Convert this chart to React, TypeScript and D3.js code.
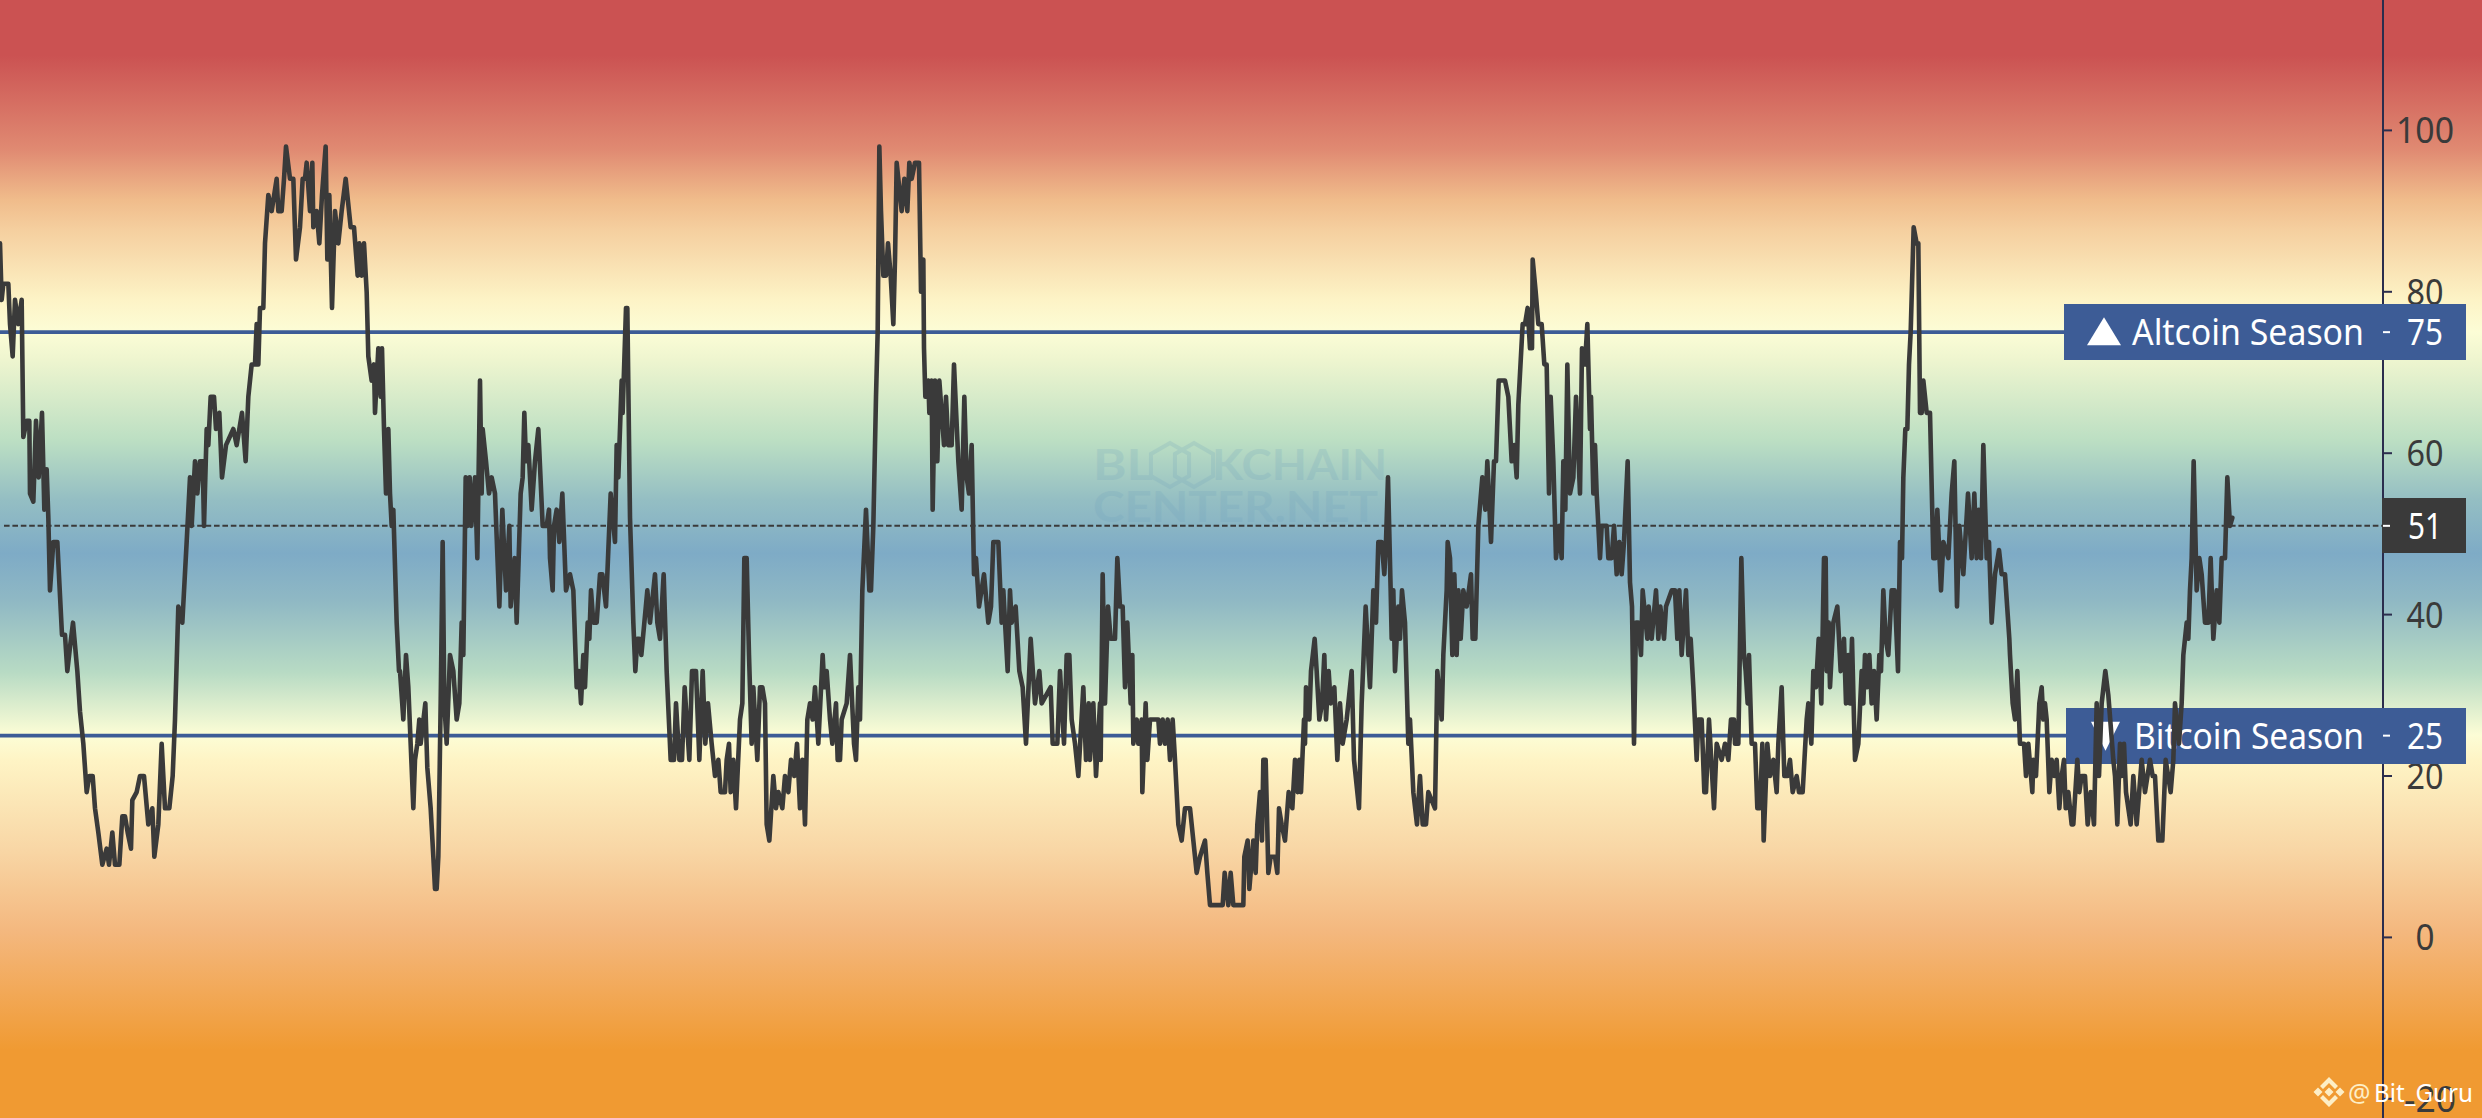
import React from 'react';
import * as d3 from 'd3';

const W = 2482;
const H = 1118;

// index readings, [time, value], time counted from the start of each stretch
const stretchA = [[0,86],[5,79],[10,81],[25,81],[30,76],[38,72],[45,79],[55,76],[65,79],[70,62],[80,64],[88,64],[90,55],[100,54],[108,64],[116,57],[126,65],[133,53],[140,58],[145,52],[150,43],[160,49],[172,49],[178,44],[186,37.5],[195,37.5],[202,33],[210,36],[219,39],[232,33],[240,28],[250,24],[260,18],[268,20],[278,20],[285,16],[295,13],[307,9],[320,11],[327,9],[337,13],[345,9],[358,9],[367,15],[375,15],[383,13],[393,11],[397,17],[410,18],[420,20],[432,20],[445,14],[457,16],[463,10],[475,14],[485,24],[495,16],[508,16],[518,20],[525,27],[535,41],[547,39],[560,49],[570,57],[575,51],[585,59],[592,55],[600,59],[608,59],[612,51],[620,63],[625,61],[632,67],[642,67],[648,63],[658,65],[666,57],[678,61],[700,63],[710,61],[726,65],[737,59],[745,67],[755,71],[765,71],[770,76],[775,71],[780,78],[790,78],[795,86],[805,92],[815,90],[830,94],[835,90],[845,90],[852,94],[858,98],[870,94],[880,94],[888,84],[900,88],[908,94],[915,94],[920,96],[930,90],[937,96],[940,88],[950,90],[958,86],[966,92],[977,98],[982,84],[988,92],[996,78],[1005,90],[1015,86],[1025,90],[1037,94],[1052,88],[1062,88],[1073,82],[1078,86],[1085,82],[1092,86],[1100,80],[1105,72],[1115,69],[1122,71],[1125,65],[1135,73],[1142,67],[1146,73],[1152,63],[1158,55],[1165,63],[1170,55],[1175,51],[1180,53],[1190,39],[1197,33]];
const stretchB = [[0,33],[10,27],[18,35],[25,31],[40,16],[45,22],[52,24],[58,27],[62,24],[76,29],[82,21],[92,16],[100,10],[105,6],[110,6],[115,10],[118,18],[122,29],[128,49],[133,29],[140,24],[150,35],[160,33],[170,27],[178,29],[185,39],[190,35],[197,57],[203,51],[209,57],[214,51],[225,57],[232,47],[240,69],[245,55],[248,63],[258,59],[267,55],[275,57],[285,55],[298,41],[307,53],[318,43],[328,51],[332,41],[344,47],[350,39],[362,55],[368,57],[373,65],[378,59],[385,61],[395,53],[405,59],[415,63],[428,51],[440,51],[447,53],[450,47],[458,43],[462,51],[470,53],[478,49],[487,55],[498,43],[510,45],[520,43],[530,31],[537,33],[543,29],[550,35],[555,31],[563,39],[568,37],[573,43],[580,39],[590,39],[600,45],[607,45],[618,41],[632,55],[645,49],[650,61],[655,57],[665,69],[668,65],[678,78],[682,78],[690,52],[700,39],[706,33],[712,37],[718,37],[724,35],[742,43],[750,39],[765,45],[772,39],[780,37],[791,45],[800,33],[812,22],[822,22],[828,29],[838,22],[846,22],[854,31],[860,27],[868,22],[876,33],[888,33],[898,22],[908,33],[916,24],[924,29],[935,24],[945,20],[955,22],[962,18],[975,18],[980,22],[987,24],[992,18],[1000,22],[1008,16],[1020,27],[1027,29],[1033,47],[1040,47],[1047,35],[1055,24],[1060,31],[1072,22],[1080,31],[1087,31],[1095,29],[1100,14],[1108,12],[1120,20],[1128,16],[1135,18],[1147,16],[1155,20],[1165,18],[1173,22],[1183,20],[1191,24]];
const stretchC = [[0,16],[7,22],[15,14],[22,27],[30,29],[38,27],[45,31],[55,24],[68,35],[73,31],[80,33],[90,27],[97,24],[108,29],[113,22],[120,22],[125,27],[140,29],[150,35],[162,24],[168,22],[175,31],[180,27],[187,43],[198,53],[208,43],[213,43],[220,51],[228,67],[233,75],[238,98],[243,90],[250,82],[258,82],[264,86],[272,82],[280,76],[285,84],[290,96],[305,90],[313,94],[322,90],[328,96],[335,94],[345,96],[357,96],[363,80],[370,84],[372,73],[376,67],[385,69],[388,65],[395,69],[398,53],[405,69],[412,59],[418,69],[425,65],[432,61],[438,67],[445,61],[455,61],[462,71],[475,59],[485,53],[493,67],[500,57],[507,55],[515,61],[522,45],[528,47],[537,41],[552,45],[565,39],[573,41],[580,49],[595,49],[605,39],[610,43],[623,33],[630,43],[635,39],[647,41],[658,33],[668,31],[678,24],[692,37],[705,29],[718,33],[725,29],[752,31],[758,24],[772,24],[780,33],[792,24],[800,35],[808,35],[815,27],[825,24],[835,20],[850,31],[858,22],[866,29],[870,22],[880,29],[888,20],[900,29],[902,22],[908,45],[915,29],[924,41],[932,37],[945,37],[952,47],[960,41],[968,41],[975,31],[982,39],[992,29],[997,35],[1000,24],[1010,27],[1015,24],[1025,27],[1027,18],[1037,29],[1042,22],[1050,27],[1075,27],[1080,24],[1088,27],[1095,24],[1103,27],[1110,22],[1118,27],[1125,22],[1135,14],[1145,12],[1155,16],[1170,16],[1180,12],[1190,8]];
const stretchD = [[0,10],[15,12],[22,8],[30,4],[68,4],[74,8],[85,4],[92,8],[100,4],[130,4],[133,10],[143,12],[148,6],[160,12],[167,8],[172,14],[180,18],[186,12],[190,22],[197,22],[205,8],[212,10],[225,10],[232,8],[237,16],[245,14],[255,12],[266,18],[277,16],[285,22],[293,18],[298,22],[303,18],[312,27],[315,24],[318,31],[328,27],[333,33],[344,37],[350,33],[358,27],[366,29],[373,35],[378,27],[386,33],[392,29],[403,31],[412,22],[420,29],[428,24],[440,27],[455,33],[462,22],[477,16],[485,29],[497,41],[510,31],[520,43],[528,39],[535,49],[545,49],[553,45],[558,49],[564,57],[572,43],[575,37],[580,43],[585,33],[595,41],[600,37],[606,43],[615,39],[625,24],[630,27],[640,18],[651,14],[660,20],[668,14],[678,14],[685,18],[705,16],[712,33],[725,27],[730,35],[740,43],[743,49],[750,47],[757,35],[763,45],[770,35],[775,43],[782,37],[790,43],[800,41],[813,45],[818,37],[826,37],[835,51],[847,57],[856,53],[862,59],[873,49],[882,59],[888,59],[896,69],[915,69],[925,67],[935,59],[943,61],[950,57],[955,66],[968,76],[975,76],[983,78],[990,73],[996,73],[998,84],[1007,80],[1015,76],[1025,76],[1033,71],[1040,71],[1047,55],[1052,67],[1060,59],[1068,47],[1078,51],[1085,47],[1090,59],[1096,53],[1102,71],[1110,55],[1120,57],[1128,67],[1140,55],[1146,73],[1155,71],[1162,76],[1170,63],[1173,67],[1180,55],[1185,61],[1190,55]];
const stretchE = [[0,47],[5,51],[20,51],[25,47],[35,47],[42,51],[50,45],[58,49],[65,45],[72,49],[83,59],[90,44],[96,41],[102,24],[108,39],[115,39],[123,35],[128,43],[142,37],[146,41],[155,37],[168,43],[175,37],[181,41],[192,37],[198,41],[215,43],[225,43],[232,37],[238,43],[245,35],[258,43],[265,35],[272,37],[280,31],[290,22],[295,27],[305,27],[313,18],[318,18],[327,27],[342,16],[350,24],[365,22],[375,24],[385,22],[393,27],[402,27],[405,24],[415,24],[424,47],[432,35],[437,33],[443,29],[447,35],[455,24],[465,24],[472,16],[480,16],[487,24],[491,12],[502,24],[510,20],[520,22],[530,18],[535,24],[545,31],[553,20],[562,20],[570,22],[578,18],[590,20],[597,18],[608,18],[620,27],[625,29],[634,24],[640,33],[648,31],[656,37],[664,29],[672,47],[677,47],[680,33],[686,39],[690,31],[700,39],[712,41],[722,33],[732,37],[738,29],[745,35],[750,29],[756,37],[765,22],[775,24],[785,33],[790,29],[795,35],[802,31],[808,35],[815,29],[822,33],[830,27],[838,35],[843,33],[850,43],[857,37],[865,35],[875,43],[884,43],[894,33],[900,49],[906,47],[910,57],[916,63],[922,63],[927,71],[932,75],[941,88],[950,86],[955,86],[960,65],[965,65],[970,69],[980,65],[990,65],[1000,47],[1006,47],[1012,53],[1023,43],[1030,49],[1045,47],[1055,55],[1063,59],[1071,41],[1078,51],[1090,45],[1104,55],[1115,47],[1123,55],[1130,47],[1136,53],[1143,47],[1150,61],[1160,47],[1167,49],[1175,39],[1185,45],[1197,48]];
const stretchF = [[5,45],[15,45],[28,37],[30,35],[38,29],[45,27],[52,33],[60,24],[72,24],[78,20],[85,24],[97,18],[100,22],[108,20],[118,29],[125,31],[130,27],[135,29],[140,27],[148,18],[155,22],[163,20],[170,22],[178,16],[185,20],[192,22],[197,16],[205,18],[215,14],[220,14],[232,22],[238,18],[245,20],[255,20],[263,14],[272,18],[282,14],[290,29],[297,20],[305,29],[316,33],[325,30],[340,22],[345,20],[352,14],[360,24],[365,20],[372,24],[378,18],[392,14],[400,20],[410,14],[425,22],[435,18],[450,22],[458,20],[465,20],[475,12],[487,12],[497,22],[512,18],[520,22],[525,29],[537,24],[545,29],[550,35],[560,39],[565,37],[570,43],[575,47],[581,59],[590,43],[598,47],[605,45],[615,39],[625,39],[632,47],[640,37],[650,43],[658,39],[665,47],[675,47],[682,57],[690,51],[697,52]];

const stretches = [stretchA, stretchB, stretchC, stretchD, stretchE, stretchF];
const stretchStarts = [0, 1200, 2400, 3600, 4800, 6000];

const axisTicks = [100, 80, 60, 40, 20, 0, -20];
const altLevel = 75;
const btcLevel = 25;
const lastValue = 51;

// background bands, index value -> colour
const bandValues = [116, 109.3, 97.6, 91.4, 87.7, 79, 75, 71.5, 61.6, 54.2, 47.6, 41.8, 32.8, 25.1, 22, 10.8, 0.9, -14, -25];
const bandColors = ['#cb5252', '#cb5252', '#e08a72', '#f0bc8b', '#f5cf9f', '#fdf3c6', '#fcfdd6', '#eef5cf', '#bcdfc3', '#94bec3', '#7eabc6', '#8fb8c4', '#b8dbc4', '#fcfdd6', '#fef4c5', '#f8d6a5', '#f4b87f', '#f09a32', '#f09a32'];

const FONT = '"Noto Sans", sans-serif';
const NAVY = '#3d5c96';
const DARK = '#3a3a3a';

const x = d3.scaleLinear().domain([0, 7446]).range([0, W]);
const y = d3.scaleLinear().domain([100, -20]).range([130.4, 1098.8]);

const series = stretches.flatMap((s, i) => s.map(([t, v]) => [stretchStarts[i] + t, v]));
const linePath = d3.line<number[]>().x(d => x(d[0])).y(d => y(d[1]))(series) as string;

const hexagon = (cx: number, cy: number, r: number) => {
  const p = d3.path();
  d3.range(6).forEach(i => {
    const a = Math.PI / 6 + (i * Math.PI) / 3;
    if (i === 0) p.moveTo(cx + r * Math.cos(a), cy + r * Math.sin(a));
    else p.lineTo(cx + r * Math.cos(a), cy + r * Math.sin(a));
  });
  p.closePath();
  return p.toString();
};

const Label = ({ top, left, value, name, up }: { top: number; left: number; value: number; name: string; up: boolean }) => {
  const cy = y(value);
  const tri = up
    ? `M2087,${cy + 13}L2104,${cy - 15}L2121,${cy + 13}Z`
    : `M2091,${cy - 14}L2120,${cy - 14}L2105.5,${cy + 15}Z`;
  return (
    <g>
      <rect x={left} y={top} width={2466 - left} height={56} fill={NAVY} />
      <path d={tri} fill="#fff" />
      <text x={up ? 2132 : 2134} y={cy + 13} fontFamily={FONT} fontSize={36} fill="#fff" textLength={up ? 232 : 230} lengthAdjust="spacingAndGlyphs">{name}</text>
      <line x1={2383} x2={2390} y1={cy} y2={cy} stroke="#fff" strokeWidth={2} />
      <text x={2425} y={cy + 13} textAnchor="middle" fontFamily={FONT} fontSize={36} fill="#fff" textLength={36} lengthAdjust="spacingAndGlyphs">{value}</text>
    </g>
  );
};

export default function App() {
  const top = y(116);
  const bottom = y(-25);
  return (
    <svg width={W} height={H} viewBox={`0 0 ${W} ${H}`} style={{ position: 'fixed', left: 0, top: 0, display: 'block' }}>
      <defs>
        <linearGradient id="bands" gradientUnits="userSpaceOnUse" x1={0} x2={0} y1={top} y2={bottom}>
          {bandValues.map((v, i) => (
            <stop key={i} offset={(y(v) - top) / (bottom - top)} stopColor={bandColors[i]} />
          ))}
        </linearGradient>
      </defs>
      <rect width={W} height={H} fill="url(#bands)" />

      {/* site watermark */}
      <g fontFamily="Lato, sans-serif" fontWeight={700} fontSize={42} fill="#6ea0be" opacity={0.2}>
        <text x={1093} y={480} textLength={60} lengthAdjust="spacingAndGlyphs">BL</text>
        <path d={hexagon(1170, 465, 22)} fill="none" stroke="#6ea0be" strokeWidth={4} />
        <path d={hexagon(1194, 465, 22)} fill="none" stroke="#6ea0be" strokeWidth={4} />
        <text x={1212} y={480} textLength={175} lengthAdjust="spacingAndGlyphs">KCHAIN</text>
        <text x={1093} y={522} textLength={285} lengthAdjust="spacingAndGlyphs">CENTER.NET</text>
      </g>

      {/* price axis */}
      <line x1={2383} x2={2383} y1={0} y2={H} stroke="#2b2d4d" strokeWidth={2} />
      {axisTicks.map(t => (
        <g key={t}>
          <line x1={2383} x2={2392} y1={y(t)} y2={y(t)} stroke="#2b2d4d" strokeWidth={2} />
          <text x={t < 0 ? 2430 : 2425} y={y(t) + 13} textAnchor="middle" fontFamily={FONT} fontSize={36} fill={DARK}
            textLength={t === 100 ? 58 : t === 0 ? 19 : t < 0 ? 52 : 37} lengthAdjust="spacingAndGlyphs">{t}</text>
        </g>
      ))}

      {/* last value */}
      <line x1={4} x2={2382} y1={y(lastValue)} y2={y(lastValue)} stroke={DARK} strokeWidth={2} strokeDasharray="5.6 2.8" />
      <rect x={2382} y={498} width={84} height={55} fill={DARK} />
      <line x1={2383} x2={2390} y1={y(lastValue)} y2={y(lastValue)} stroke="#fff" strokeWidth={2} />
      <text x={2425} y={y(lastValue) + 13} textAnchor="middle" fontFamily={FONT} fontSize={36} fill="#fff" textLength={34} lengthAdjust="spacingAndGlyphs">{lastValue}</text>

      {/* season levels */}
      <line x1={0} x2={2064} y1={y(altLevel)} y2={y(altLevel)} stroke={NAVY} strokeWidth={3.6} />
      <line x1={0} x2={2066} y1={y(btcLevel)} y2={y(btcLevel)} stroke={NAVY} strokeWidth={3.6} />
      <Label top={304} left={2064} value={altLevel} name="Altcoin Season" up={true} />
      <Label top={708} left={2066} value={btcLevel} name="Bitcoin Season" up={false} />

      <path d={linePath} fill="none" stroke={DARK} strokeWidth={4.6} strokeLinejoin="round" strokeLinecap="round" />

      {/* author mark */}
      <g transform="translate(2329,1092)" fill="#fdeec6">
        <path d="M0,-4.5L4.5,0L0,4.5L-4.5,0Z" />
        <path d="M-11,-4.5L-6.5,0L-11,4.5L-15.5,0Z" />
        <path d="M11,-4.5L15.5,0L11,4.5L6.5,0Z" />
        <path d="M0,-15L9,-6L6,-3L0,-9L-6,-3L-9,-6Z" />
        <path d="M0,15L9,6L6,3L0,9L-6,3L-9,6Z" />
      </g>
      <text x={2348} y={1102} fontFamily={FONT} fontSize={25} fill="#fdeec6">@</text>
      <text x={2374} y={1102} fontFamily={FONT} fontSize={25} fill="#fff" textLength={99} lengthAdjust="spacingAndGlyphs">Bit_Guru</text>
    </svg>
  );
}
